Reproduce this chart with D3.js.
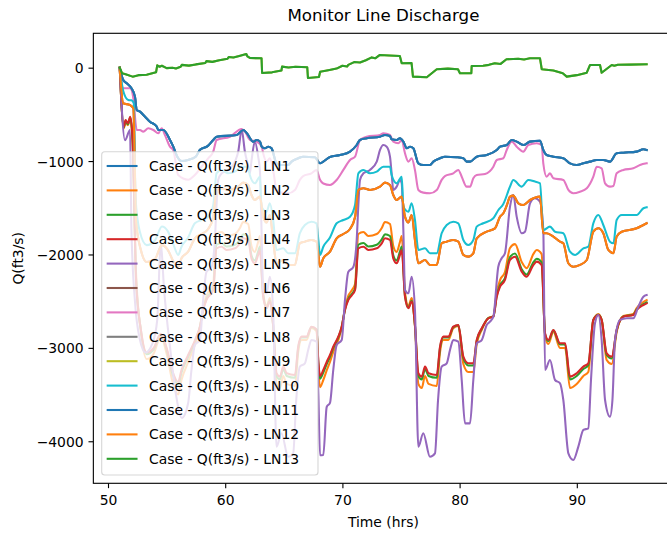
<!DOCTYPE html>
<html><head><meta charset="utf-8">
<script src="https://cdn.jsdelivr.net/npm/d3@7"></script>
<style>body{margin:0;background:#fff}svg{display:block;font-family:"DejaVu Sans",sans-serif}</style>
</head><body><svg id="c" width="667" height="538"></svg>
<script>
// ---------- data (time in hrs, discharge in ft3/s) ----------
const title = "Monitor Line Discharge";
const xLabel = "Time (hrs)";
const yLabel = "Q(ft3/s)";
const xTicks = [50, 60, 70, 80, 90];
const yTicks = [0, -1000, -2000, -3000, -4000];
const seriesNames = ["LN1","LN2","LN3","LN4","LN5","LN6","LN7","LN8","LN9","LN10","LN11","LN12","LN13"];
const seriesColors = ["#1f77b4","#ff7f0e","#2ca02c","#d62728","#9467bd","#8c564b","#e377c2","#7f7f7f","#bcbd22","#17becf","#1f77b4","#ff7f0e","#2ca02c"];

const ln1 = [[51.0,0],[51.3,-132],[51.6,-167],[52.0,-221],[52.3,-310],[52.45,-453],[52.73,-471],[53.16,-525],[53.58,-578],[54.16,-632],[54.29,-667],[54.72,-667],[55.29,-774],[55.57,-846],[55.9,-950],[56.3,-1000],[56.9,-985],[57.5,-950],[57.85,-880],[58.5,-840],[58.98,-774],[59.27,-739],[60.98,-721],[61.54,-667],[61.83,-699],[62.4,-792],[62.69,-774],[62.97,-792],[63.12,-846],[63.39,-863],[63.67,-846],[63.95,-863],[64.38,-1024],[64.8,-1042],[65.37,-1042],[65.66,-1006],[66.23,-970],[66.65,-953],[67.65,-959],[68.09,-1024],[68.37,-1006],[68.94,-956],[69.8,-935],[70.65,-899],[71.22,-828],[71.5,-774],[72.07,-756],[73.2,-739],[73.63,-721],[74.06,-731],[74.2,-767],[74.63,-774],[74.91,-756],[75.2,-792],[75.49,-863],[75.77,-846],[76.05,-863],[76.48,-1024],[76.9,-1042],[77.47,-1042],[77.76,-1006],[78.33,-970],[78.75,-953],[79.75,-959],[80.32,-970],[80.6,-1006],[80.89,-1006],[81.46,-953],[82.31,-935],[83.17,-881],[83.45,-846],[84.02,-828],[84.45,-774],[84.87,-792],[85.44,-828],[86.01,-792],[86.86,-782],[87.14,-881],[87.43,-935],[88.0,-953],[88.85,-970],[89.42,-1024],[89.99,-1042],[90.56,-1024],[91.13,-1006],[91.7,-988],[92.26,-988],[92.83,-1006],[93.4,-917],[93.97,-910],[95.11,-899],[95.68,-874],[95.96,-881]];

const ln2 = [[51.0,0],[51.35,-650],[51.5,-580],[51.7,-615],[51.9,-545],[52.1,-800],[52.4,-2220],[52.8,-2820],[53.3,-3120],[53.9,-3060],[54.5,-2880],[55.0,-3060],[55.5,-3360],[55.99,-3498],[56.27,-3344],[56.84,-3151],[57.55,-2916],[57.84,-2788],[58.12,-2573],[58.4,-2444],[58.98,-2316],[59.26,-1781],[59.69,-1760],[60.11,-1802],[60.83,-1781],[61.26,-1716],[61.53,-1652],[61.96,-1674],[62.24,-1909],[62.53,-1973],[62.81,-1866],[62.96,-1802],[63.24,-2402],[63.53,-2551],[63.81,-2466],[64.09,-2766],[64.38,-3386],[64.67,-3430],[64.95,-3301],[65.25,-3386],[65.95,-3408],[66.23,-3044],[66.51,-2916],[66.94,-2916],[67.36,-2788],[67.79,-2820],[67.95,-3240],[68.09,-3420],[68.37,-3344],[68.66,-3241],[68.94,-3151],[69.22,-3044],[69.65,-2916],[69.94,-2788],[70.22,-2573],[70.5,-2444],[70.82,-2381],[71.08,-2316],[71.36,-1781],[71.79,-1760],[72.21,-1802],[72.93,-1781],[73.36,-1716],[73.63,-1652],[74.06,-1674],[74.34,-1909],[74.63,-1973],[74.91,-1866],[75.06,-1802],[75.34,-2402],[75.63,-2551],[75.91,-2466],[76.19,-2766],[76.48,-3386],[76.77,-3430],[77.05,-3301],[77.35,-3386],[78.05,-3408],[78.33,-3044],[78.61,-2916],[79.04,-2916],[79.46,-2788],[79.89,-2766],[80.32,-3173],[80.74,-3258],[81.17,-3258],[81.46,-2959],[81.89,-2808],[82.45,-2680],[82.88,-2659],[83.17,-2402],[83.45,-2274],[83.87,-2188],[84.3,-1931],[84.73,-1889],[85.3,-2081],[85.72,-2146],[86.29,-1996],[86.58,-1952],[87.0,-1996],[87.29,-2873],[87.57,-2959],[88.0,-2830],[88.57,-3001],[89.0,-3001],[89.42,-3430],[89.99,-3386],[90.56,-3301],[90.98,-3258],[91.41,-2701],[91.84,-2638],[92.12,-2701],[92.55,-3130],[92.98,-3173],[93.4,-2830],[93.97,-2659],[94.82,-2638],[95.11,-2573],[95.68,-2509],[95.96,-2488]];

const ln3 = [[51.0,0],[51.35,-640],[51.5,-570],[51.7,-605],[51.9,-535],[52.1,-790],[52.4,-2280],[52.8,-2805],[53.3,-3068],[53.9,-3015],[54.5,-2858],[55.0,-3015],[55.5,-3278],[55.99,-3398],[56.27,-3264],[56.84,-3095],[57.55,-2889],[57.84,-2777],[58.12,-2589],[58.4,-2476],[58.98,-2364],[59.26,-1896],[59.69,-1878],[60.11,-1915],[60.83,-1896],[61.26,-1839],[61.53,-1783],[61.96,-1802],[62.24,-2008],[62.53,-2064],[62.81,-1970],[62.96,-1915],[63.24,-2440],[63.53,-2570],[63.81,-2495],[64.09,-2758],[64.38,-3301],[64.67,-3338],[64.95,-3226],[65.25,-3301],[65.95,-3320],[66.23,-3001],[66.51,-2889],[66.94,-2889],[67.36,-2777],[67.79,-2805],[67.95,-3173],[68.09,-3330],[68.37,-3264],[68.66,-3174],[68.94,-3095],[69.22,-3001],[69.65,-2889],[69.94,-2777],[70.22,-2589],[70.5,-2476],[70.82,-2421],[71.08,-2364],[71.36,-1896],[71.79,-1878],[72.21,-1915],[72.93,-1896],[73.36,-1839],[73.63,-1783],[74.06,-1802],[74.34,-2008],[74.63,-2064],[74.91,-1970],[75.06,-1915],[75.34,-2440],[75.63,-2570],[75.91,-2495],[76.19,-2758],[76.48,-3301],[76.77,-3338],[77.05,-3226],[77.35,-3301],[78.05,-3320],[78.33,-3001],[78.61,-2889],[79.04,-2889],[79.46,-2777],[79.89,-2758],[80.32,-3114],[80.74,-3188],[81.17,-3188],[81.46,-2927],[81.89,-2795],[82.45,-2682],[82.88,-2664],[83.17,-2440],[83.45,-2327],[83.87,-2252],[84.3,-2027],[84.73,-1990],[85.3,-2158],[85.72,-2215],[86.29,-2084],[86.58,-2046],[87.0,-2084],[87.29,-2851],[87.57,-2927],[88.0,-2813],[88.57,-2964],[89.0,-2964],[89.42,-3338],[89.99,-3301],[90.56,-3226],[90.98,-3188],[91.41,-2701],[91.84,-2645],[92.12,-2701],[92.55,-3076],[92.98,-3114],[93.4,-2813],[93.97,-2664],[94.82,-2645],[95.11,-2589],[95.68,-2533],[95.96,-2514]];

const ln4 = [[51.0,0],[51.35,-632],[51.5,-560],[51.7,-595],[51.9,-525],[52.1,-774],[52.4,-2300],[52.8,-2800],[53.3,-3050],[53.9,-3000],[54.5,-2850],[55.0,-3000],[55.5,-3250],[55.99,-3365],[56.27,-3237],[56.84,-3076],[57.55,-2880],[57.84,-2773],[58.12,-2594],[58.4,-2487],[58.98,-2380],[59.26,-1934],[59.69,-1917],[60.11,-1952],[60.83,-1934],[61.26,-1880],[61.53,-1827],[61.96,-1845],[62.24,-2041],[62.53,-2094],[62.81,-2005],[62.96,-1952],[63.24,-2452],[63.53,-2576],[63.81,-2505],[64.09,-2755],[64.38,-3272],[64.67,-3308],[64.95,-3201],[65.25,-3272],[65.95,-3290],[66.23,-2987],[66.51,-2880],[66.94,-2880],[67.36,-2773],[67.79,-2800],[67.95,-3150],[68.09,-3300],[68.37,-3237],[68.66,-3151],[68.94,-3076],[69.22,-2987],[69.65,-2880],[69.94,-2773],[70.22,-2594],[70.5,-2487],[70.82,-2434],[71.08,-2380],[71.36,-1934],[71.79,-1917],[72.21,-1952],[72.93,-1934],[73.36,-1880],[73.63,-1827],[74.06,-1845],[74.34,-2041],[74.63,-2094],[74.91,-2005],[75.06,-1952],[75.34,-2452],[75.63,-2576],[75.91,-2505],[76.19,-2755],[76.48,-3272],[76.77,-3308],[77.05,-3201],[77.35,-3272],[78.05,-3290],[78.33,-2987],[78.61,-2880],[79.04,-2880],[79.46,-2773],[79.89,-2755],[80.32,-3094],[80.74,-3165],[81.17,-3165],[81.46,-2916],[81.89,-2790],[82.45,-2683],[82.88,-2666],[83.17,-2452],[83.45,-2345],[83.87,-2273],[84.3,-2059],[84.73,-2024],[85.3,-2184],[85.72,-2238],[86.29,-2113],[86.58,-2077],[87.0,-2113],[87.29,-2844],[87.57,-2916],[88.0,-2808],[88.57,-2951],[89.0,-2951],[89.42,-3308],[89.99,-3272],[90.56,-3201],[90.98,-3165],[91.41,-2701],[91.84,-2648],[92.12,-2701],[92.55,-3058],[92.98,-3094],[93.4,-2808],[93.97,-2666],[94.82,-2648],[95.11,-2594],[95.68,-2541],[95.96,-2523]];

const ln5 = [[51.0,0],[51.45,-776],[51.88,-667],[52.0,-1738],[52.3,-2500],[52.7,-2900],[53.2,-3050],[53.8,-2950],[54.2,-2700],[54.5,-1900],[54.8,-2400],[55.3,-3000],[55.8,-3500],[56.3,-3750],[56.84,-3590],[57.12,-3237],[57.41,-2969],[57.84,-2916],[58.12,-2487],[58.4,-2187],[58.83,-2134],[59.12,-1845],[59.26,-1470],[59.4,-1202],[59.69,-1131],[60.25,-1095],[60.83,-1006],[61.11,-900],[61.41,-665],[61.68,-900],[61.96,-1050],[62.1,-1131],[62.24,-1000],[62.53,-790],[62.81,-950],[62.96,-1100],[63.1,-1738],[63.24,-2380],[63.53,-2416],[63.81,-2238],[64.09,-2594],[64.38,-4058],[64.8,-3914],[65.37,-4165],[65.8,-4129],[66.06,-3558],[66.37,-3201],[66.8,-3165],[67.08,-3023],[67.36,-2916],[67.79,-2934],[67.95,-3500],[68.09,-4150],[68.37,-4147],[68.66,-3633],[68.94,-3590],[69.22,-3237],[69.51,-2969],[69.94,-2916],[70.22,-2487],[70.5,-2187],[70.93,-2134],[71.22,-1845],[71.36,-1470],[71.5,-1202],[71.79,-1131],[72.35,-1095],[72.93,-1006],[73.21,-881],[73.49,-828],[73.78,-846],[74.06,-953],[74.2,-1131],[74.34,-1309],[74.63,-1274],[74.91,-1202],[75.06,-1238],[75.2,-1738],[75.34,-2380],[75.63,-2416],[75.91,-2238],[76.19,-2594],[76.48,-4058],[76.9,-3914],[77.47,-4165],[77.9,-4129],[78.16,-3558],[78.47,-3201],[78.9,-3165],[79.18,-3023],[79.46,-2916],[79.89,-2934],[80.18,-3344],[80.46,-3808],[80.89,-3808],[81.17,-3344],[81.46,-2951],[81.89,-2916],[82.31,-2755],[82.59,-2720],[82.88,-2666],[83.3,-2131],[83.59,-2041],[83.87,-1987],[84.3,-1488],[84.58,-1363],[84.87,-1595],[85.3,-1773],[85.58,-1756],[86.01,-1452],[86.43,-1398],[86.86,-1435],[87.14,-1738],[87.29,-3237],[87.71,-3130],[88.14,-3344],[88.57,-3379],[88.85,-3558],[89.28,-4129],[89.7,-4200],[90.13,-4058],[90.56,-3879],[90.98,-3861],[91.21,-3344],[91.55,-2737],[91.84,-2648],[92.12,-2916],[92.41,-3558],[92.83,-3737],[93.04,-3558],[93.26,-2916],[93.69,-2701],[94.26,-2683],[94.82,-2683],[95.25,-2559],[95.68,-2452],[95.96,-2434]];

const ln7 = [[51.0,0],[51.31,-221],[51.88,-221],[52.02,-239],[52.16,-328],[52.45,-667],[52.73,-667],[53.01,-685],[53.44,-649],[53.87,-667],[54.29,-702],[54.58,-649],[54.86,-721],[55.29,-846],[55.57,-881],[55.99,-1150],[56.84,-1200],[57.41,-1150],[57.98,-1060],[58.55,-970],[58.98,-900],[59.27,-774],[60.41,-739],[61.41,-656],[61.69,-685],[62.12,-774],[62.69,-792],[63.12,-846],[63.24,-917],[63.53,-1006],[63.81,-970],[64.09,-1095],[64.38,-1309],[64.8,-1338],[65.37,-1345],[65.95,-1309],[66.37,-1202],[66.65,-1160],[67.36,-1131],[67.79,-1095],[68.09,-1200],[68.37,-1240],[68.94,-1256],[69.51,-1202],[70.08,-1095],[70.65,-988],[71.08,-953],[71.5,-774],[72.07,-739],[73.21,-721],[73.49,-702],[74.06,-721],[74.34,-792],[74.77,-809],[75.06,-774],[75.34,-917],[75.63,-1006],[75.91,-970],[76.19,-1095],[76.48,-1309],[76.9,-1338],[77.47,-1345],[78.05,-1309],[78.47,-1202],[78.75,-1160],[79.46,-1131],[79.89,-1095],[80.18,-1167],[80.6,-1274],[80.89,-1274],[81.17,-1184],[81.46,-1149],[82.17,-1138],[82.88,-1060],[83.17,-988],[83.73,-970],[84.02,-881],[84.45,-792],[84.87,-846],[85.44,-899],[85.86,-828],[86.58,-809],[87.0,-828],[87.14,-1024],[87.43,-1167],[87.71,-1131],[88.0,-1184],[88.85,-1202],[89.28,-1309],[89.7,-1345],[90.27,-1328],[90.85,-1291],[91.41,-1167],[91.7,-1060],[92.12,-1077],[92.41,-1238],[92.83,-1274],[93.12,-1267],[93.4,-1131],[93.97,-1095],[94.82,-1077],[95.39,-1042],[95.96,-1024]];

const ln10 = [[51.0,0],[51.3,-250],[51.73,-346],[52.0,-350],[52.2,-380],[52.35,-1400],[52.7,-1750],[53.3,-1900],[54.0,-1850],[54.6,-1700],[55.1,-1750],[55.6,-1900],[55.99,-2005],[56.27,-1917],[56.84,-1818],[57.41,-1666],[57.98,-1631],[58.55,-1595],[58.98,-1470],[59.26,-1131],[59.69,-1095],[60.25,-1131],[60.83,-1113],[61.39,-1060],[61.96,-1060],[62.1,-1149],[62.53,-1238],[62.96,-1167],[63.1,-1488],[63.53,-1542],[63.81,-1452],[64.09,-1631],[64.38,-1952],[64.95,-1934],[65.37,-1987],[65.95,-1987],[66.37,-1773],[66.8,-1684],[67.36,-1649],[67.79,-1666],[67.95,-1850],[68.09,-2005],[68.37,-1917],[68.94,-1818],[69.51,-1666],[70.08,-1631],[70.65,-1595],[71.08,-1470],[71.36,-1131],[71.79,-1095],[72.35,-1131],[72.93,-1113],[73.49,-1060],[74.06,-1060],[74.2,-1149],[74.63,-1238],[75.06,-1167],[75.2,-1488],[75.63,-1542],[75.91,-1452],[76.19,-1631],[76.48,-1952],[77.05,-1934],[77.47,-1987],[78.05,-1987],[78.47,-1773],[78.9,-1684],[79.46,-1649],[79.89,-1666],[80.32,-1845],[80.74,-1898],[81.17,-1845],[81.46,-1702],[82.02,-1666],[82.88,-1612],[83.31,-1524],[83.73,-1459],[84.3,-1274],[84.58,-1202],[85.3,-1274],[85.86,-1202],[86.43,-1220],[86.86,-1238],[87.14,-1738],[87.71,-1702],[88.14,-1756],[88.85,-1773],[89.42,-1970],[89.85,-2005],[90.56,-1934],[90.98,-1917],[91.41,-1666],[91.84,-1577],[92.26,-1684],[92.83,-1863],[93.12,-1880],[93.4,-1631],[93.83,-1577],[95.11,-1577],[95.68,-1505],[95.96,-1495]];

const ln12 = [[51.0,0],[51.3,-381],[51.87,-400],[52.16,-435],[52.4,-1650],[52.8,-1950],[53.3,-2080],[54.0,-2050],[54.6,-1900],[55.1,-1950],[55.6,-2080],[55.99,-2131],[56.27,-2041],[56.84,-1970],[57.41,-1827],[57.98,-1781],[58.55,-1727],[58.98,-1599],[59.26,-1309],[59.69,-1291],[60.25,-1309],[61.11,-1274],[61.53,-1231],[61.96,-1256],[62.24,-1363],[62.53,-1417],[62.96,-1381],[63.24,-1595],[63.53,-1657],[63.81,-1577],[64.09,-1845],[64.38,-2094],[64.95,-2059],[65.37,-2112],[65.95,-2112],[66.37,-1880],[66.8,-1863],[67.36,-1845],[67.79,-1863],[67.95,-2000],[68.09,-2131],[68.37,-2041],[68.94,-1970],[69.51,-1827],[70.08,-1781],[70.65,-1727],[71.08,-1599],[71.36,-1309],[71.79,-1291],[72.35,-1309],[73.21,-1274],[73.63,-1231],[74.06,-1256],[74.34,-1363],[74.63,-1417],[75.06,-1381],[75.34,-1595],[75.63,-1657],[75.91,-1577],[76.19,-1845],[76.48,-2094],[77.05,-2059],[77.47,-2112],[78.05,-2112],[78.47,-1880],[78.9,-1863],[79.46,-1845],[79.89,-1863],[80.32,-2005],[80.74,-2023],[81.17,-1987],[81.46,-1827],[82.31,-1756],[83.02,-1720],[83.45,-1595],[83.73,-1559],[84.04,-1470],[84.3,-1381],[84.58,-1370],[85.01,-1452],[85.44,-1470],[86.01,-1417],[86.86,-1381],[87.14,-1773],[87.43,-1773],[88.0,-1809],[88.57,-1863],[88.85,-1880],[89.28,-2094],[89.7,-2131],[90.27,-2112],[90.85,-2059],[91.41,-1756],[91.84,-1720],[92.26,-1773],[92.69,-1952],[93.12,-1987],[93.4,-1809],[93.83,-1756],[95.11,-1720],[95.68,-1684],[95.96,-1666]];

const ln13 = [[51.0,0],[51.2,-60],[51.5,-70],[52.1,-96],[52.6,-80],[53.3,-75],[54.1,-50],[54.2,25],[54.4,10],[54.6,20],[55.0,-5],[55.5,0],[55.8,-8],[56.2,10],[56.3,30],[56.9,22],[57.5,35],[58.3,50],[58.4,70],[58.9,62],[59.5,80],[60.2,95],[60.3,115],[60.7,108],[61.2,125],[61.8,147],[61.9,120],[62.1,104],[63.1,100],[63.15,-57],[64.0,-50],[64.8,-30],[64.85,11],[65.4,2],[66.0,10],[67.0,5],[67.06,-110],[68.0,-100],[68.1,-43],[68.9,-25],[69.5,-10],[70.0,20],[70.4,12],[70.5,30],[71.0,60],[71.5,55],[72.0,80],[72.5,110],[72.8,100],[73.2,136],[74.0,130],[74.9,125],[75.06,47],[75.9,50],[76.02,-96],[77.2,-103],[78.05,-17],[79.0,-10],[79.86,-17],[80.03,-60],[81.0,-60],[81.03,18],[82.0,20],[82.5,30],[83.0,47],[83.5,40],[84.0,90],[85.0,95],[85.5,88],[86.0,100],[86.86,100],[87.01,-17],[88.0,-30],[88.8,-60],[89.14,-96],[90.0,-80],[90.85,-54],[91.13,29],[91.98,29],[92.12,-54],[92.98,29],[93.2,20],[93.5,32],[94.5,33],[95.96,36]];

// series hidden underneath later lines of identical values
const ln11 = ln1;
const ln6 = ln12;
const ln8 = ln11;
const ln9 = ln13;

const seriesData = [ln1, ln2, ln3, ln4, ln5, ln6, ln7, ln8, ln9, ln10, ln11, ln12, ln13];

// ---------- drawing ----------
const svg = d3.select("#c");
const W = 667, H = 538;
const box = {l: 93.35, r: 673.5, t: 33.3, b: 483.3};
const fs = 13.9;

svg.append("rect").attr("width", W).attr("height", H).attr("fill", "#fff");

const x = d3.scaleLinear().domain([48.75, 98.25]).range([box.l, box.r]);
const y = d3.scaleLinear().domain([-4450, 368]).range([box.b, box.t]);

svg.append("clipPath").attr("id", "clip")
  .append("rect").attr("x", box.l).attr("y", box.t)
  .attr("width", box.r - box.l).attr("height", box.b - box.t);

const smooth = d3.line().x(d => x(d[0])).y(d => y(d[1])).curve(d3.curveMonotoneX);
const straight = d3.line().x(d => x(d[0])).y(d => y(d[1]));
const gLines = svg.append("g").attr("clip-path", "url(#clip)");
seriesData.forEach((data, i) => {
  gLines.append("path").attr("d", (data === ln13 ? straight : smooth)(data))
    .attr("fill", "none").attr("stroke", seriesColors[i])
    .attr("stroke-width", 2.08).attr("stroke-linejoin", "round").attr("stroke-linecap", "square");
});

const fmt = d => d < 0 ? "\u2212" + Math.abs(d) : String(d);

// x axis
const gx = svg.append("g").attr("transform", `translate(0,${box.b})`)
  .call(d3.axisBottom(x).tickValues(xTicks).tickFormat(fmt).tickSize(4.86).tickSizeOuter(0).tickPadding(4.86));
gx.select(".domain").remove();
gx.selectAll(".tick line").attr("stroke", "#000").attr("stroke-width", 1.11);
gx.selectAll(".tick text").attr("font-size", fs).attr("font-family", "DejaVu Sans").attr("fill", "#000")
  .attr("y", 22.2).attr("dy", 0);

// y axis
const gy = svg.append("g").attr("transform", `translate(${box.l},0)`)
  .call(d3.axisLeft(y).tickValues(yTicks).tickFormat(fmt).tickSize(4.86).tickSizeOuter(0).tickPadding(4.86));
gy.select(".domain").remove();
gy.selectAll(".tick line").attr("stroke", "#000").attr("stroke-width", 1.11);
gy.selectAll(".tick text").attr("font-size", fs).attr("font-family", "DejaVu Sans").attr("fill", "#000")
  .attr("dy", "0.36em");

// spines
svg.append("rect").attr("x", box.l).attr("y", box.t)
  .attr("width", box.r - box.l).attr("height", box.b - box.t)
  .attr("fill", "none").attr("stroke", "#000").attr("stroke-width", 1.11);

// labels
svg.append("text").attr("x", (box.l + box.r) / 2).attr("y", 21)
  .attr("text-anchor", "middle").attr("font-size", 16.67).attr("fill", "#000").text(title);
svg.append("text").attr("x", (box.l + box.r) / 2).attr("y", 527)
  .attr("text-anchor", "middle").attr("font-size", fs).attr("fill", "#000").text(xLabel);
svg.append("text").attr("transform", `translate(23,${(box.t + box.b) / 2}) rotate(-90)`)
  .attr("text-anchor", "middle").attr("font-size", fs).attr("fill", "#000").text(yLabel);

// legend
const leg = {x: 101.7, y: 151.7, w: 216.3, h: 323.3, row0: 166, step: 24.4};
const gLeg = svg.append("g");
gLeg.append("rect").attr("x", leg.x).attr("y", leg.y).attr("width", leg.w).attr("height", leg.h)
  .attr("rx", 3).attr("ry", 3)
  .attr("fill", "#fff").attr("fill-opacity", 0.8)
  .attr("stroke", "#cccccc").attr("stroke-opacity", 0.8).attr("stroke-width", 1.11);
seriesNames.forEach((n, i) => {
  const cy = leg.row0 + i * leg.step;
  gLeg.append("line").attr("x1", 107.7).attr("x2", 136.5).attr("y1", cy).attr("y2", cy)
    .attr("stroke", seriesColors[i]).attr("stroke-width", 2.08).attr("stroke-linecap", "square");
  gLeg.append("text").attr("x", 149).attr("y", cy).attr("dy", "0.36em")
    .attr("font-size", fs).attr("fill", "#000").text("Case - Q(ft3/s) - " + n);
});
</script></body></html>
